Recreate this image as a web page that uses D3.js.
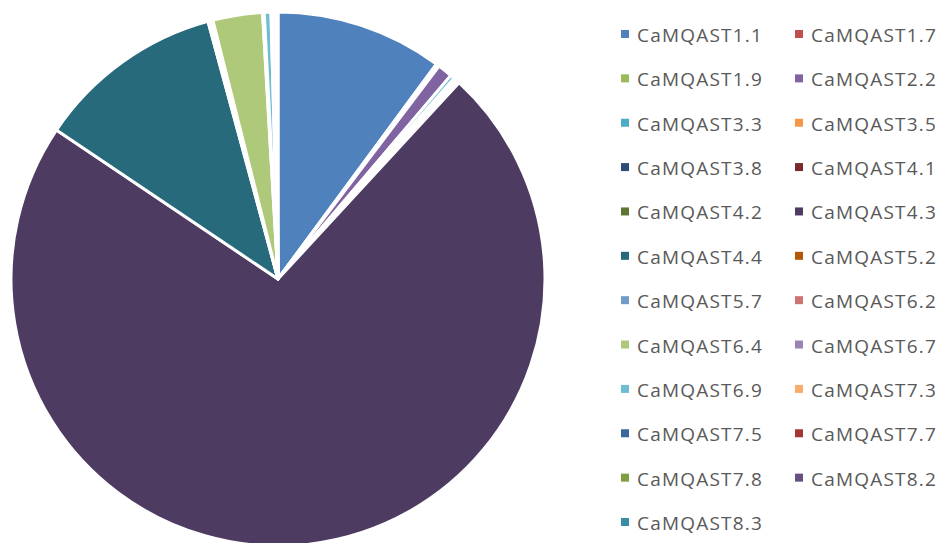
<!DOCTYPE html>
<html>
<head>
<meta charset="utf-8">
<script src="https://cdn.jsdelivr.net/npm/d3@7"></script>
<style>
  html, body { margin: 0; padding: 0; background: #fff; }
  svg { display: block; }
</style>
</head>
<body>
<svg id="chart" width="939" height="543"></svg>
<script>
// Gene family members, in legend order
const genes = [
  "CaMQAST1.1", "CaMQAST1.7", "CaMQAST1.9", "CaMQAST2.2", "CaMQAST3.3",
  "CaMQAST3.5", "CaMQAST3.8", "CaMQAST4.1", "CaMQAST4.2", "CaMQAST4.3",
  "CaMQAST4.4", "CaMQAST5.2", "CaMQAST5.7", "CaMQAST6.2", "CaMQAST6.4",
  "CaMQAST6.7", "CaMQAST6.9", "CaMQAST7.3", "CaMQAST7.5", "CaMQAST7.7",
  "CaMQAST7.8", "CaMQAST8.2", "CaMQAST8.3"
];

// Share of each member (%)
const shares = [
  10.1, 0.1, 0.1, 0.9, 0.25,
  0.1, 0.1, 0.1, 0.1, 72.5,
  11.35, 0.1, 0.1, 0.1, 3.0,
  0.1, 0.4, 0.07, 0.07, 0.07,
  0.07, 0.07, 0.07
];

// Slice / swatch colours
const palette = [
  "#4F81BD", "#C0504D", "#9BBB59", "#8064A2", "#4BACC6",
  "#F79646", "#2C4D75", "#772C2A", "#5F7530", "#4D3B62",
  "#276A7C", "#B65708", "#729ACA", "#CD7371", "#AFC97A",
  "#9983B5", "#6FBDD1", "#F9AB6B", "#3A679C", "#A13634",
  "#7E9D40", "#664F82", "#358EA6"
];

const data = genes.map((g, i) => ({ gene: g, value: shares[i] }));

const svg = d3.select("#chart");
const cx = 278, cy = 279, radius = 267;

const color = d3.scaleOrdinal().domain(genes).range(palette);

const pie = d3.pie().value(d => d.value).sort(null);
const arc = d3.arc().innerRadius(0).outerRadius(radius);

svg.append("g")
  .attr("transform", `translate(${cx},${cy})`)
  .selectAll("path")
  .data(pie(data))
  .join("path")
  .attr("d", arc)
  .attr("fill", d => color(d.data.gene))
  .attr("stroke", "#fff")
  .attr("stroke-width", 3)
  .attr("stroke-linejoin", "round");

// Legend: two columns, rows filled left to right
const legend = svg.append("g").attr("transform", "translate(621,35)");
const colX = d3.scalePoint().domain([0, 1]).range([0, 174]);
const rowY = d3.scaleLinear().domain([0, 11]).range([0, 488]);

const item = legend.selectAll("g")
  .data(genes)
  .join("g")
  .attr("transform", (d, i) => `translate(${colX(i % 2)},${rowY(Math.floor(i / 2))})`);

item.append("rect")
  .attr("x", 0).attr("y", -5)
  .attr("width", 8).attr("height", 8)
  .attr("fill", d => color(d));

item.append("text")
  .attr("x", 16).attr("y", 0)
  .attr("dominant-baseline", "central")
  .attr("font-family", "'Open Sans', 'Liberation Sans', sans-serif")
  .attr("font-size", 19)
  .attr("letter-spacing", 1.2)
  .attr("fill", "#595959")
  .text(d => d);
</script>
</body>
</html>
